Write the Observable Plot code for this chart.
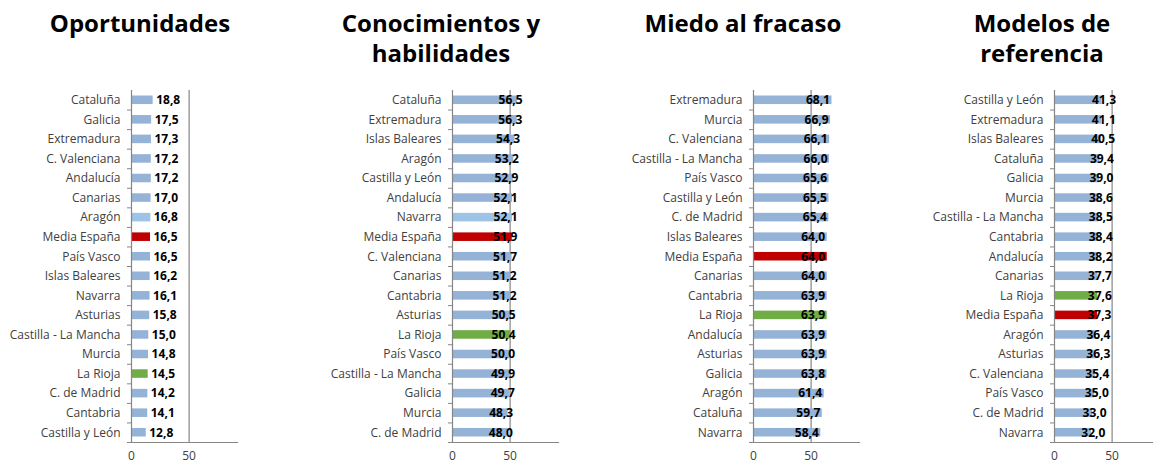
<!DOCTYPE html>
<html><head><meta charset="utf-8">
<script src="https://cdn.jsdelivr.net/npm/d3@7"></script>
<script src="https://cdn.jsdelivr.net/npm/@observablehq/plot@0.6"></script>
<style>
body{margin:0;background:#fff;overflow:hidden;}
#root{position:relative;width:1153px;height:464px;overflow:hidden;}
.title{position:absolute;top:8px;width:320px;text-align:center;font:700 24px/30px "Open Sans",sans-serif;color:#000;}
.chart{position:absolute;top:80px;}
</style></head><body><div id="root"></div>
<script>
// ---- Data ----
const titleLines = [["Oportunidades"], ["Conocimientos y", "habilidades"], ["Miedo al fracaso"], ["Modelos de", "referencia"]];

const regions1 = ["Cataluña","Galicia","Extremadura","C. Valenciana","Andalucía","Canarias","Aragón","Media España","País Vasco","Islas Baleares","Navarra","Asturias","Castilla - La Mancha","Murcia","La Rioja","C. de Madrid","Cantabria","Castilla y León"];
const values1 = [18.8,17.5,17.3,17.2,17.2,17.0,16.8,16.5,16.5,16.2,16.1,15.8,15.0,14.8,14.5,14.2,14.1,12.8];

const regions2 = ["Cataluña","Extremadura","Islas Baleares","Aragón","Castilla y León","Andalucía","Navarra","Media España","C. Valenciana","Canarias","Cantabria","Asturias","La Rioja","País Vasco","Castilla - La Mancha","Galicia","Murcia","C. de Madrid"];
const values2 = [56.5,56.3,54.3,53.2,52.9,52.1,52.1,51.9,51.7,51.2,51.2,50.5,50.4,50.0,49.9,49.7,48.3,48.0];

const regions3 = ["Extremadura","Murcia","C. Valenciana","Castilla - La Mancha","País Vasco","Castilla y León","C. de Madrid","Islas Baleares","Media España","Canarias","Cantabria","La Rioja","Andalucía","Asturias","Galicia","Aragón","Cataluña","Navarra"];
const values3 = [68.1,66.9,66.1,66.0,65.6,65.5,65.4,64.0,64.0,64.0,63.9,63.9,63.9,63.9,63.8,61.4,59.7,58.4];

const regions4 = ["Castilla y León","Extremadura","Islas Baleares","Cataluña","Galicia","Murcia","Castilla - La Mancha","Cantabria","Andalucía","Canarias","La Rioja","Media España","Aragón","Asturias","C. Valenciana","País Vasco","C. de Madrid","Navarra"];
const values4 = [41.3,41.1,40.5,39.4,39.0,38.6,38.5,38.4,38.2,37.7,37.6,37.3,36.4,36.3,35.4,35.0,33.0,32.0];

const lighterBar = ["Aragón", "Navarra", null, null]; // per panel, slightly lighter bar
const xTicks = [0, 50];
const xMax = 92;

// ---- Styling / layout ----
const colBase = "#95B3D7", colLight = "#9DC3E6", colAvg = "#C00000", colRioja = "#70AD47";
const axisGray = "#868686";
const panels = [
  {regions: regions1, values: values1, x0: 131, titleCenter: 140, anchor: "start", dx: 3},
  {regions: regions2, values: values2, x0: 452, titleCenter: 441, anchor: "middle", dx: -7},
  {regions: regions3, values: values3, x0: 752.5, titleCenter: 743, anchor: "end", dx: -2},
  {regions: regions4, values: values4, x0: 1053.5, titleCenter: 1042, anchor: "middle", dx: 2}
];
const fmt = v => d3.format(".1f")(v).replace(".", ",");
const root = document.getElementById("root");
const mL = 131, plotW = 106, mR = 6, H = 384, mT = 10, mB = 22;
const step = (H - mT - mB) / 18;

panels.forEach((p, i) => {
  const t = document.createElement("div");
  t.className = "title";
  t.style.left = (p.titleCenter - 160) + "px";
  t.innerHTML = titleLines[i].join("<br>");
  root.appendChild(t);

  const data = p.regions.map((r, k) => ({region: r, value: p.values[k]}));
  const colorOf = d => d.region === "Media España" ? colAvg : d.region === "La Rioja" ? colRioja : d.region === lighterBar[i] ? colLight : colBase;

  const chart = Plot.plot({
    width: mL + plotW + mR, height: H,
    marginLeft: mL, marginRight: mR, marginTop: mT, marginBottom: mB,
    style: {fontFamily: "Open Sans", fontSize: "12px", background: "transparent"},
    x: {domain: [0, xMax], label: null},
    y: {domain: p.regions, padding: 0, round: false, label: null},
    marks: [
      Plot.ruleX(xTicks.slice(1), {stroke: axisGray, strokeWidth: 1.2}),
      Plot.barX(data, {x: "value", y: "region", fill: colorOf, insetTop: 5.5, insetBottom: 5.5}),
      Plot.ruleX([0], {stroke: axisGray, strokeWidth: 1.2}),
      Plot.frame({anchor: "bottom", stroke: axisGray, strokeWidth: 1.2}),
      Plot.axisY({tickSize: 0, tickPadding: 11, fill: "#404040", fontSize: 12, label: null}),
      Plot.axisY({tickSize: 4, tickFormat: () => "", dy: step / 2, stroke: axisGray, label: null}),
      Plot.axisX({ticks: xTicks, tickSize: 0, tickPadding: 9, fill: "#404040", fontSize: 12, label: null}),
      Plot.text(data, {x: "value", y: "region", text: d => fmt(d.value), textAnchor: p.anchor, dx: p.dx, fontWeight: 700, fontSize: 12, fill: "#000"})
    ]
  });
  chart.classList.add("chart");
  chart.style.left = (p.x0 - mL) + "px";
  root.appendChild(chart);
});
</script>
</body></html>
